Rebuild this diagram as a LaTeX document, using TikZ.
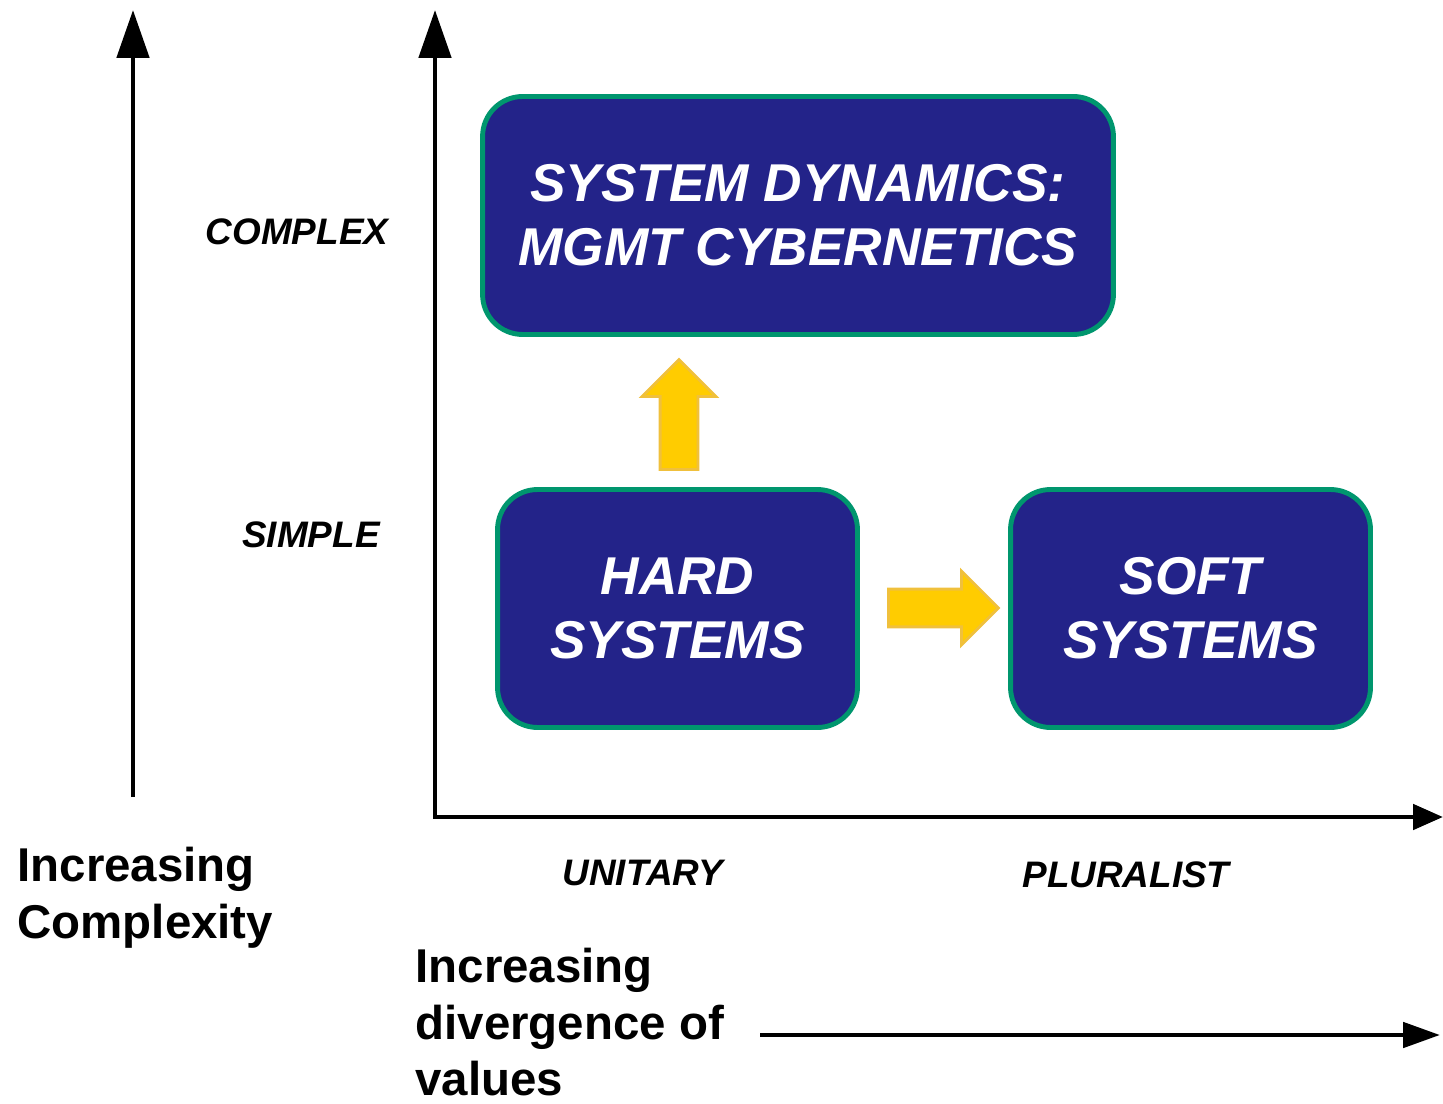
\documentclass[tikz,border=0pt]{standalone}
\usepackage{fontspec}
\setmainfont{Liberation Sans}
\usetikzlibrary{arrows.meta, shapes.arrows}
\definecolor{boxblue}{RGB}{35,35,137}
\definecolor{boxgreen}{RGB}{0,150,110}
\definecolor{arrowyellow}{RGB}{255,204,0}
\definecolor{arrowedge}{RGB}{240,192,60}

\begin{document}
\begin{tikzpicture}[x=0.02cm, y=-0.02cm, line width=2.8pt,
    method/.style={draw=boxgreen, fill=boxblue, text=white, line width=2.8pt, rounded corners=0.8cm, align=center, inner sep=0pt, font=\fontsize{30.3}{36.4}\selectfont\bfseries\itshape},
    scalelabel/.style={font=\fontsize{21}{25}\selectfont\bfseries\itshape, inner sep=0pt},
    axislabel/.style={font=\fontsize{27}{32}\selectfont\bfseries, align=left, anchor=north west, inner sep=0pt},
    movearrow/.style={single arrow, fill=arrowyellow, draw=arrowedge, line width=1.6pt, minimum height=2.2cm, inner xsep=0pt, inner ysep=0.35cm, single arrow head extend=0.36cm, anchor=tail}]
    \useasboundingbox (0,0) rectangle (1443,1104);
    \node[method, minimum width=12.62cm, minimum height=4.76cm] (sd) at (798,215.5) {SYSTEM DYNAMICS:\\MGMT CYBERNETICS};
    \node[method, minimum width=7.2cm, minimum height=4.76cm] (hard) at (677.5,608.5) {HARD\\SYSTEMS};
    \node[method, minimum width=7.2cm, minimum height=4.76cm] (soft) at (1190.5,608.5) {SOFT\\SYSTEMS};
    \node[movearrow, rotate=90] (up) at (679,471) {};
    \node[movearrow] (right) at (887,608) {};
    \node[scalelabel] (complex) at (297,232) {COMPLEX};
    \node[scalelabel] (simple) at (311,535) {SIMPLE};
    \node[scalelabel] (unitary) at (643,873) {UNITARY};
    \node[scalelabel] (pluralist) at (1126,875) {PLURALIST};
    \node[axislabel] (cplx) at (15,845) {Increasing\\Complexity};
    \node[axislabel] (dvg) at (413,946) {Increasing\\divergence of\\values};
    \coordinate (cbot) at (133,797);
    \coordinate (ctop) at (133,10);
    \coordinate (o) at (435,817);
    \coordinate (ytop) at (435,10);
    \coordinate (xend) at (1443,817);
    \coordinate (vstart) at (760,1035);
    \coordinate (vend) at (1440,1035);
    \draw[-{Triangle[length=0.96cm, width=0.64cm]}] (cbot) -- (ctop);
    \draw[{Triangle[length=0.96cm, width=0.64cm]}-{Triangle[length=0.6cm, width=0.5cm]}] (ytop) -- (o) -- (xend);
    \draw[-{Triangle[length=0.74cm, width=0.5cm]}] (vstart) -- (vend);
\end{tikzpicture}
\end{document}
